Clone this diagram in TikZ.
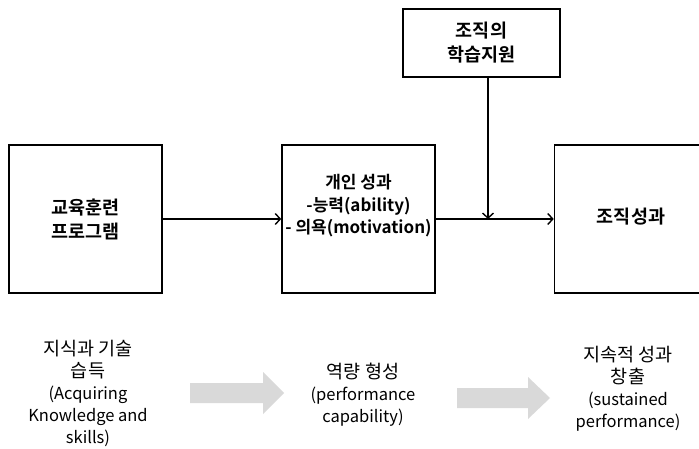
\documentclass[tikz,border=0pt]{standalone}
\usepackage{fontspec}
\setmainfont{Noto Sans CJK KR}[BoldFont={Noto Sans CJK KR Bold}]
\usetikzlibrary{arrows.meta,positioning}
\newcommand{\kr}[1]{{\fontsize{18.5}{22}\selectfont #1}}

\begin{document}
\begin{tikzpicture}[x=1pt,y=-1pt,
    box/.style={draw,line width=1.6pt,minimum width=153pt,minimum height=148pt,inner sep=0pt,
      align=center,font=\bfseries\fontsize{18.5}{24}\selectfont},
    note/.style={align=center,font=\fontsize{16.5}{22}\selectfont,inner sep=0pt},
    link/.style={line width=1.4pt,-{Straight Barb[length=5pt,width=11pt,line width=1.4pt]}},
    flow/.style={fill=black!15,draw=none}]
  \useasboundingbox (0,0) rectangle (699,449);
  % boxes
  \node[box] (train) at (85.5,219) {교육훈련\\프로그램};
  \node[box,label={[align=center,font=\bfseries\fontsize{17}{22.5}\selectfont,yshift=13pt]center:개인 성과\\-능력(ability)\\- 의욕(motivation)}] (indiv) at (358.5,219) {};
  \node[box] (orgperf) at (631,219) {\raisebox{6pt}{조직성과}};
  \node[box,minimum width=157pt,minimum height=68pt] (support) at (481.5,43) {조직의\\학습지원};
  \coordinate (join) at (488,219);
  % connectors
  \draw[link] (train) -- (indiv);
  \draw[link] (indiv) -- (orgperf);
  \draw[link] (support.south -| join) -- (join);
  % stages
  \node[note] (acquire) at (88,393) {\kr{지식과 기술}\\\kr{습득}\\(Acquiring\\Knowledge and\\skills)};
  \node[note] (capab) at (363,395) {\kr{역량 형성}\\(performance\\capability)};
  \node[note] (sustain) at (628,389) {\kr{지속적 성과}\\\kr{창출}\\(sustained\\performance)};
  \fill[flow] (190,383) -- (263,383) -- (263,372) -- (284,393) -- (263,414) -- (263,403) -- (190,403) -- cycle;
  \fill[flow] (457,388) -- (528,388) -- (528,377) -- (550,398) -- (528,419) -- (528,408) -- (457,408) -- cycle;
\end{tikzpicture}
\end{document}
